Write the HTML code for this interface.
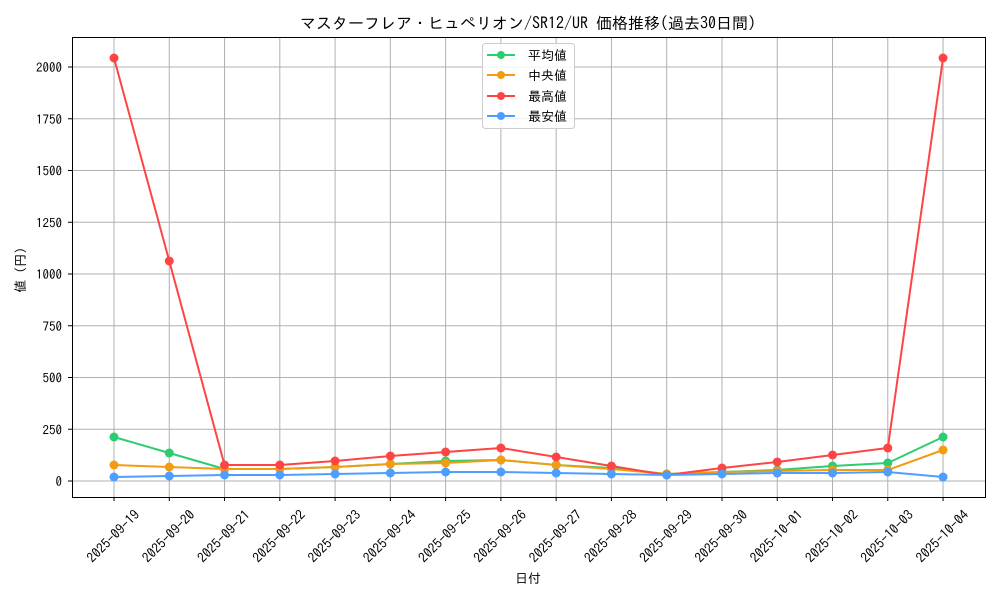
<!DOCTYPE html>
<html><head><meta charset="utf-8"><style>
body{margin:0;background:#fff;}
svg text{font-family:"IPAGothic","Noto Sans CJK JP",sans-serif;fill:#000;}
</style></head><body>
<svg width="1000" height="600" xmlns="http://www.w3.org/2000/svg">
<rect width="1000" height="600" fill="#fff"/>
<g id="grid" stroke="#b0b0b0" stroke-width="1"></g>
<rect x="72.5" y="37.5" width="913" height="460" fill="none" stroke="#000" stroke-width="1"/>
<g id="ticks"></g>
<g id="series"></g>
<text x="528" y="29" font-size="16" text-anchor="middle">マスターフレア・ヒュペリオン/SR12/UR 価格推移(過去30日間)</text>
<text x="528" y="583" font-size="13" text-anchor="middle">日付</text>
<text transform="translate(25,270) rotate(-90)" font-size="13" text-anchor="middle">値 (円)</text>
<g>
<rect x="482.5" y="43.5" width="92" height="85" rx="3" fill="#fff" fill-opacity="0.85" stroke="#ccc"/>
<line x1="487" y1="55" x2="515" y2="55" stroke="#2ecc71" stroke-width="2"/><circle cx="501" cy="55" r="4" fill="#2ecc71"/><text x="528" y="60" font-size="13">平均値</text>
<line x1="487" y1="75" x2="515" y2="75" stroke="#f39c12" stroke-width="2"/><circle cx="501" cy="75" r="4" fill="#f39c12"/><text x="528" y="80" font-size="13">中央値</text>
<line x1="487" y1="96" x2="515" y2="96" stroke="#ff4444" stroke-width="2"/><circle cx="501" cy="96" r="4" fill="#ff4444"/><text x="528" y="101" font-size="13">最高値</text>
<line x1="487" y1="116" x2="515" y2="116" stroke="#4d9eff" stroke-width="2"/><circle cx="501" cy="116" r="4" fill="#4d9eff"/><text x="528" y="121" font-size="13">最安値</text>
</g>
</svg>
<script>
const NS="http://www.w3.org/2000/svg";
function el(t,a,p,txt){const e=document.createElementNS(NS,t);for(const k in a)e.setAttribute(k,a[k]);if(txt)e.textContent=txt;document.getElementById(p).appendChild(e);return e;}
const dates=["2025-09-19","2025-09-20","2025-09-21","2025-09-22","2025-09-23","2025-09-24","2025-09-25","2025-09-26","2025-09-27","2025-09-28","2025-09-29","2025-09-30","2025-10-01","2025-10-02","2025-10-03","2025-10-04"];
const X=i=>114+i*55.27;
const Y=v=>481-v*0.207;
for(let i=0;i<16;i++){const x=X(i);
 el("line",{x1:x,y1:38,x2:x,y2:497},"grid");
 el("line",{x1:x,y1:497,x2:x,y2:501,stroke:"#000"},"ticks");
 el("text",{x:0,y:5,"font-size":13.5,"text-anchor":"middle",transform:`translate(${x-1},${536}) rotate(-45)`},"ticks",dates[i]);}
for(let v=0;v<=2000;v+=250){const y=Y(v);
 el("line",{x1:73,y1:y,x2:985,y2:y},"grid");
 el("line",{x1:68,y1:y,x2:72,y2:y,stroke:"#000"},"ticks");
 el("text",{x:62,y:y+5,"font-size":13,"text-anchor":"end"},"ticks",String(v));}
const S=[
["#2ecc71",[437,453,469,469,467,464,461,460,465,468,474,472,470,466,463,437]],
["#f39c12",[465,467,469,469,467,464,463,460,465,469,474,472,471,470,470,450]],
["#ff4444",[58,261,465,465,461,456,452,448,457,466,475,468,462,455,448,58]],
["#4d9eff",[477,476,475,475,474,473,472,472,473,474,475,474,473,473,472,477]]];
for(const [c,ys] of S){
 el("polyline",{points:ys.map((y,i)=>X(i)+","+y).join(" "),fill:"none",stroke:c,"stroke-width":2},"series");
 ys.forEach((y,i)=>el("circle",{cx:X(i),cy:y,r:4.5,fill:c},"series"));}
</script>
</body></html>
